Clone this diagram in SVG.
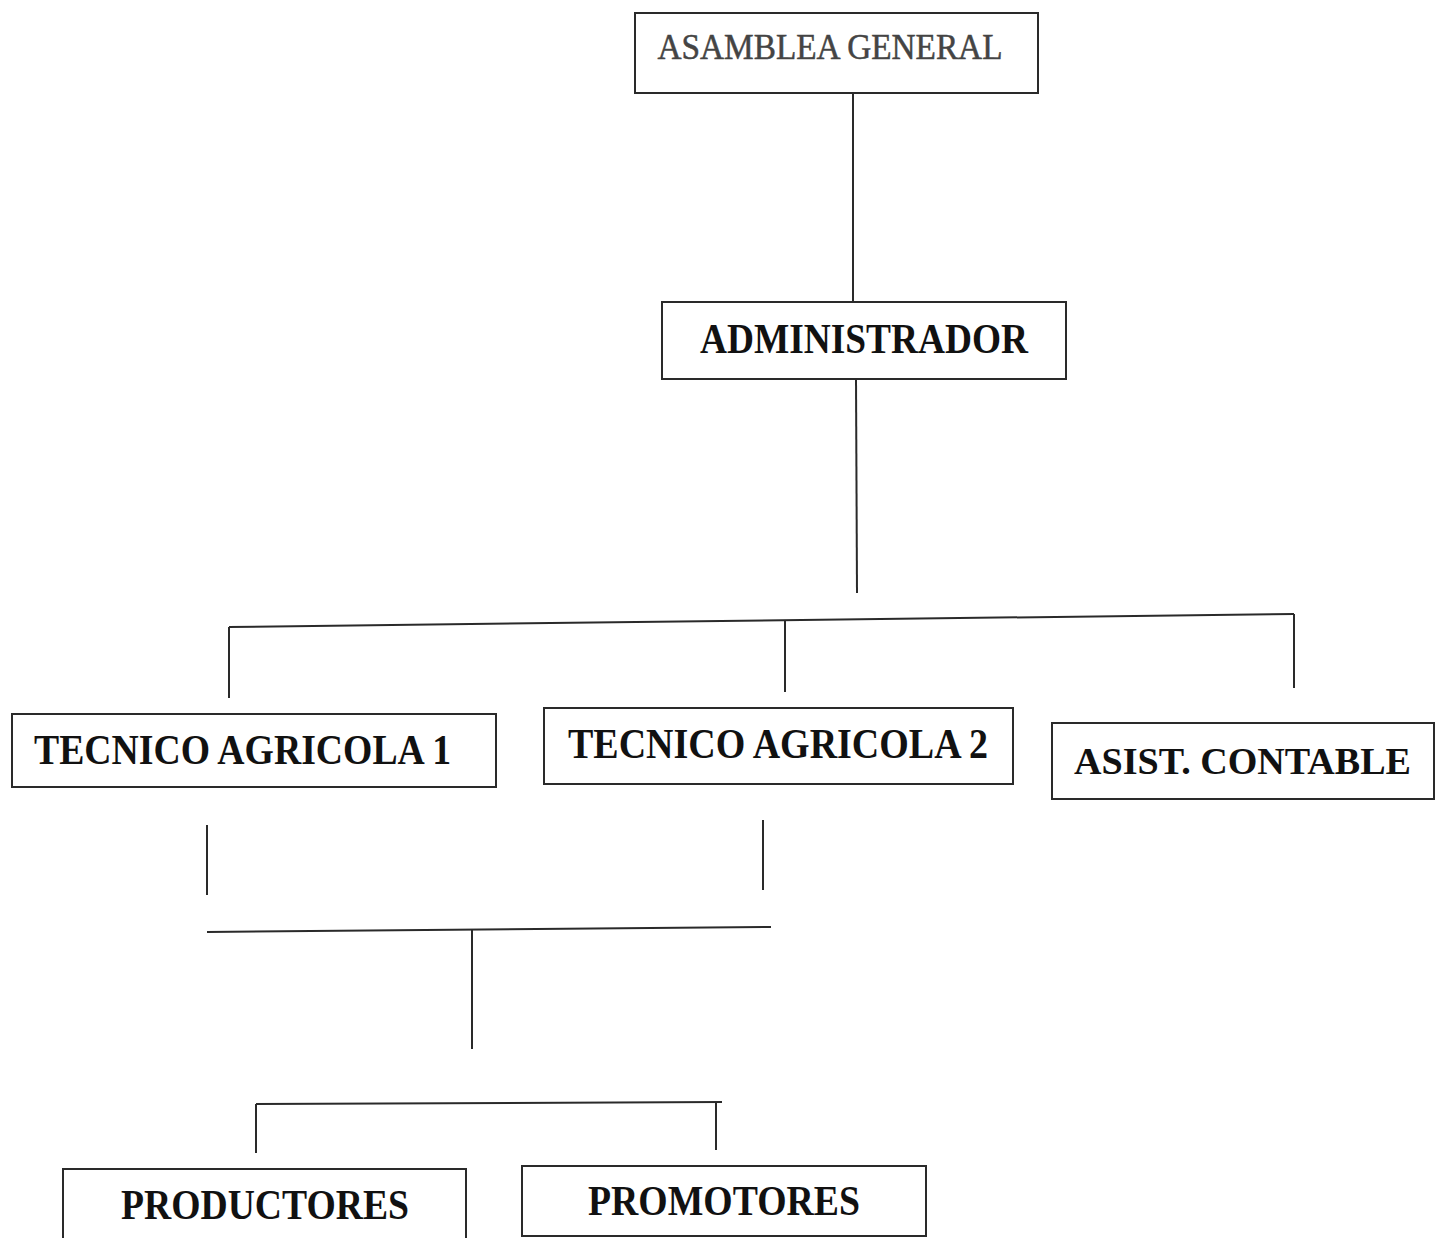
<svg xmlns="http://www.w3.org/2000/svg" width="1436" height="1238" viewBox="0 0 1436 1238">
<style>
.box{fill:#fff;stroke:#2a2a2a;stroke-width:2}
.t{font-family:"Liberation Serif","Times New Roman",serif;font-weight:bold;font-size:42px;fill:#111}
.t0{font-family:"Liberation Serif","Times New Roman",serif;font-size:35px;fill:#444;font-weight:normal;stroke:#444;stroke-width:0.5}
.c line{stroke:#2a2a2a;stroke-width:2}
</style>
<rect width="1436" height="1238" fill="#fff"/>
<g class="c" id="connectors">
<line x1="853" y1="93" x2="853" y2="303"/>
<line x1="856" y1="379" x2="857" y2="593"/>
<line x1="229" y1="627" x2="1294" y2="614"/>
<line x1="229" y1="627" x2="229" y2="698"/>
<line x1="785" y1="621" x2="785" y2="692"/>
<line x1="1294" y1="614" x2="1294" y2="688"/>
<line x1="207" y1="825" x2="207" y2="895"/>
<line x1="763" y1="820" x2="763" y2="890"/>
<line x1="207" y1="932" x2="771" y2="927"/>
<line x1="472" y1="930" x2="472" y2="1049"/>
<line x1="256" y1="1104" x2="722" y2="1102"/>
<line x1="256" y1="1104" x2="256" y2="1153"/>
<line x1="716" y1="1102" x2="716" y2="1150"/>
</g>
<g id="asamblea">
<rect class="box" x="635" y="13" width="403" height="80"/>
<text class="t0" x="830" y="59" text-anchor="middle" textLength="345" lengthAdjust="spacingAndGlyphs">ASAMBLEA GENERAL</text>
</g>
<g id="administrador">
<rect class="box" x="662" y="302" width="404" height="77"/>
<text class="t" x="864" y="353" text-anchor="middle" textLength="328" lengthAdjust="spacingAndGlyphs">ADMINISTRADOR</text>
</g>
<g id="tecnico1">
<rect class="box" x="12" y="714" width="484" height="73"/>
<text class="t" x="34" y="764" textLength="417" lengthAdjust="spacingAndGlyphs">TECNICO AGRICOLA 1</text>
</g>
<g id="tecnico2">
<rect class="box" x="544" y="708" width="469" height="76"/>
<text class="t" x="568" y="758" textLength="420" lengthAdjust="spacingAndGlyphs">TECNICO AGRICOLA 2</text>
</g>
<g id="asist">
<rect class="box" x="1052" y="723" width="382" height="76"/>
<text class="t" x="1074" y="774" font-size="38" textLength="337" lengthAdjust="spacingAndGlyphs" style="font-size:38px">ASIST. CONTABLE</text>
</g>
<g id="productores">
<rect class="box" x="63" y="1169" width="403" height="80"/>
<text class="t" x="265" y="1219" text-anchor="middle" textLength="288" lengthAdjust="spacingAndGlyphs">PRODUCTORES</text>
</g>
<g id="promotores">
<rect class="box" x="522" y="1166" width="404" height="70"/>
<text class="t" x="724" y="1215" text-anchor="middle" textLength="272" lengthAdjust="spacingAndGlyphs">PROMOTORES</text>
</g>
</svg>
